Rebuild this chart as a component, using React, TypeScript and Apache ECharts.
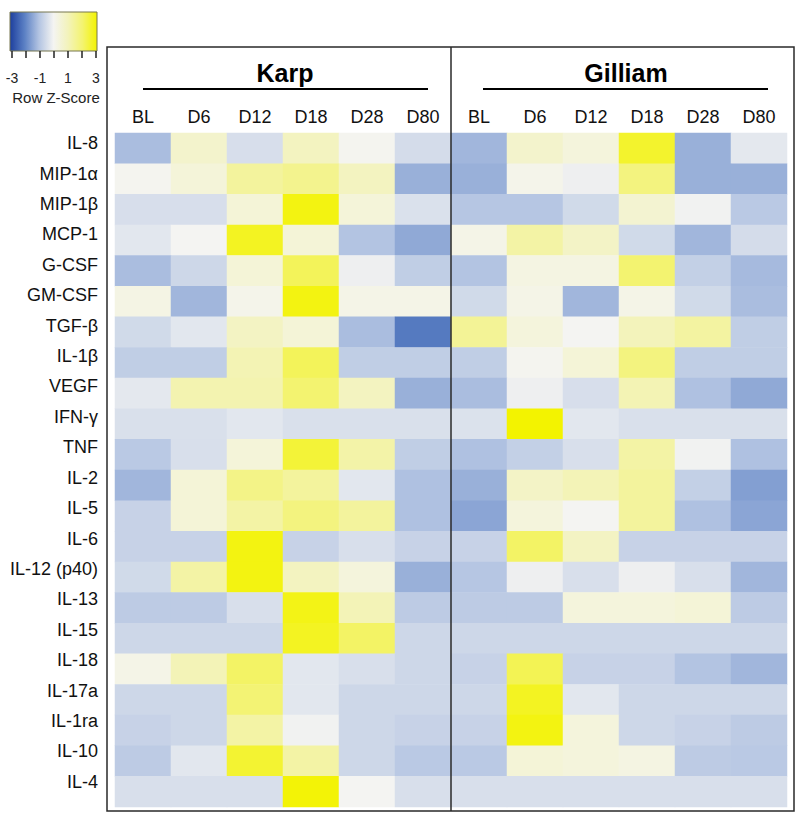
import React, { useEffect, useRef } from "react";
import * as echarts from "echarts";

const groups = ["Karp", "Gilliam"];
const days = ["BL", "D6", "D12", "D18", "D28", "D80"];
const cytokines = [
  "IL-8", "MIP-1α", "MIP-1β", "MCP-1", "G-CSF", "GM-CSF", "TGF-β", "IL-1β",
  "VEGF", "IFN-γ", "TNF", "IL-2", "IL-5", "IL-6", "IL-12 (p40)", "IL-13",
  "IL-15", "IL-18", "IL-17a", "IL-1ra", "IL-10", "IL-4",
];

// Row z-scores, columns BL, D6, D12, D18, D28, D80
const karpZ = [
  [-1.1, 0.7, -0.45, 0.9, 0.05, -0.5],
  [0.05, 0.45, 1.4, 1.6, 0.9, -1.3],
  [-0.45, -0.45, 0.5, 2.85, 0.45, -0.4],
  [-0.28, 0.0, 2.7, 0.5, -1.0, -1.4],
  [-1.1, -0.6, 0.5, 2.2, -0.1, -0.8],
  [0.25, -1.2, 0.15, 2.85, 0.2, 0.2],
  [-0.55, -0.28, 0.85, 0.5, -1.1, -2.1],
  [-0.8, -0.8, 1.1, 2.2, -0.8, -0.8],
  [-0.25, 1.15, 1.15, 2.0, 0.9, -1.3],
  [-0.42, -0.42, -0.28, -0.42, -0.42, -0.42],
  [-0.9, -0.43, 0.45, 2.5, 1.25, -0.8],
  [-1.2, 0.5, 1.7, 1.4, -0.28, -1.05],
  [-0.7, 0.5, 1.3, 1.8, 1.4, -1.05],
  [-0.7, -0.7, 2.85, -0.7, -0.43, -0.7],
  [-0.55, 1.3, 2.85, 0.9, 0.4, -1.3],
  [-0.85, -0.85, -0.43, 2.8, 1.05, -0.85],
  [-0.6, -0.6, -0.6, 2.7, 2.1, -0.6],
  [0.2, 1.05, 2.1, -0.28, -0.43, -0.6],
  [-0.6, -0.6, 1.95, -0.28, -0.6, -0.6],
  [-0.7, -0.6, 1.3, -0.05, -0.6, -0.7],
  [-0.85, -0.28, 2.55, 1.3, -0.6, -0.9],
  [-0.43, -0.43, -0.43, 2.95, 0.0, -0.43],
];

const gilliamZ = [
  [-1.2, 0.7, 0.4, 2.6, -1.3, -0.25],
  [-1.3, 0.15, -0.1, 1.8, -1.3, -1.3],
  [-0.95, -0.95, -0.55, 0.6, -0.05, -0.9],
  [0.2, 1.3, 0.8, -0.55, -1.2, -0.5],
  [-1.0, 0.3, 0.3, 2.0, -0.75, -1.15],
  [-0.55, 0.2, -1.2, 0.2, -0.55, -1.1],
  [1.5, 0.4, 0.0, 1.0, 1.35, -0.8],
  [-0.8, 0.05, 0.5, 1.8, -0.8, -0.8],
  [-1.1, -0.1, -0.45, 1.1, -1.05, -1.4],
  [-0.38, 3.0, -0.28, -0.42, -0.42, -0.42],
  [-1.05, -0.75, -0.43, 1.3, -0.05, -1.05],
  [-1.3, 0.8, 1.05, 1.4, -0.75, -1.55],
  [-1.45, 0.4, 0.0, 1.4, -1.05, -1.45],
  [-0.7, 2.1, 0.85, -0.7, -0.7, -0.7],
  [-0.95, -0.1, -0.43, -0.1, -0.43, -1.2],
  [-0.85, -0.85, 0.4, 0.4, 0.5, -0.85],
  [-0.6, -0.6, -0.6, -0.6, -0.6, -0.6],
  [-0.7, 2.25, -0.7, -0.7, -1.0, -1.2],
  [-0.6, 2.7, -0.28, -0.6, -0.6, -0.6],
  [-0.7, 2.85, 0.4, -0.6, -0.7, -0.85],
  [-0.9, 0.5, 0.4, 0.3, -0.85, -0.9],
  [-0.43, -0.43, -0.43, -0.43, -0.43, -0.43],
];

const legendTicks = [-3, -2, -1, 0, 1, 2, 3];
const legendLabels = [-3, -1, 1, 3];
const scaleColors = ["#1d3f9e", "#5b80c4", "#b3c4e2", "#f4f4f2", "#f3f3bb", "#f3f370", "#f3f300"];

const FONT = "'Liberation Sans', Arial, Helvetica, sans-serif";

export default function App() {
  const ref = useRef<HTMLDivElement>(null);

  useEffect(() => {
    if (!ref.current) return;
    const chart = echarts.init(ref.current, null, { renderer: "svg" });

    const xCats = groups.flatMap((g) => days.map((d) => `${g}|${d}`));
    const groupData = [karpZ, gilliamZ];
    const data: [number, number, number][] = [];
    groupData.forEach((mat, gi) => {
      mat.forEach((row, ri) => {
        row.forEach((v, ci) => {
          data.push([gi * days.length + ci, ri, v]);
        });
      });
    });

    const lgX0 = 12;
    const lgW = 84;
    const tickX = (v: number) => lgX0 + ((v + 3) / 6) * lgW;

    const graphic: any[] = [
      {
        type: "rect",
        shape: { x: 10, y: 12, width: 87, height: 39 },
        style: {
          fill: new echarts.graphic.LinearGradient(
            0, 0, 1, 0,
            scaleColors.map((c, i) => ({ offset: i / (scaleColors.length - 1), color: c }))
          ),
          stroke: "#77774f",
          lineWidth: 1,
        },
      },
      ...legendTicks.map((v) => ({
        type: "line",
        shape: { x1: tickX(v), y1: 51, x2: tickX(v), y2: 58 },
        style: { stroke: "#222", lineWidth: 1.5 },
      })),
      ...legendLabels.map((v) => ({
        type: "text",
        x: tickX(v),
        y: 78,
        style: {
          text: String(v),
          fill: "#222",
          fontSize: 14,
          fontFamily: FONT,
          align: "center",
          verticalAlign: "middle",
          textAlign: "center",
          textVerticalAlign: "middle",
        },
      })),
      {
        type: "text",
        x: 56,
        y: 97,
        style: {
          text: "Row Z-Score",
          fill: "#222",
          fontSize: 15,
          fontFamily: FONT,
          align: "center",
          verticalAlign: "middle",
          textAlign: "center",
          textVerticalAlign: "middle",
        },
      },
      {
        type: "rect",
        shape: { x: 107, y: 47, width: 687, height: 764 },
        style: { fill: "transparent", stroke: "#2a2a2a", lineWidth: 1.5 },
        z: 10,
      },
      {
        type: "line",
        shape: { x1: 451, y1: 47, x2: 451, y2: 811 },
        style: { stroke: "#2a2a2a", lineWidth: 1.5 },
        z: 10,
      },
      ...groups.map((g, i) => ({
        type: "text",
        x: i === 0 ? 285 : 626,
        y: 73,
        style: {
          text: g,
          fill: "#000",
          fontSize: 25,
          fontWeight: "bold",
          fontFamily: FONT,
          align: "center",
          verticalAlign: "middle",
          textAlign: "center",
          textVerticalAlign: "middle",
        },
      })),
      ...groups.map((g, i) => ({
        type: "line",
        shape: i === 0 ? { x1: 143, y1: 89, x2: 428, y2: 89 } : { x1: 483, y1: 89, x2: 768, y2: 89 },
        style: { stroke: "#000", lineWidth: 2.2 },
      })),
    ];

    chart.setOption({
      animation: false,
      backgroundColor: "#ffffff",
      textStyle: { fontFamily: FONT },
      grid: [
        { left: 115, right: 13, top: 133, bottom: 9 },
        { left: 115, right: 13, top: 128, bottom: 19 },
      ],
      xAxis: [
        {
          type: "category",
          gridIndex: 0,
          data: xCats,
          position: "top",
          axisLine: { show: false },
          axisTick: { show: false },
          splitLine: { show: false },
          axisLabel: {
            formatter: (v: string) => v.split("|")[1],
            fontSize: 18,
            color: "#111",
            margin: 16,
            verticalAlign: "middle",
            fontFamily: FONT,
            interval: 0,
          },
        },
        {
          type: "category",
          gridIndex: 1,
          data: xCats,
          show: false,
        },
      ],
      yAxis: [
        {
          type: "category",
          gridIndex: 0,
          data: cytokines,
          inverse: true,
          show: false,
        },
        {
          type: "category",
          gridIndex: 1,
          data: cytokines,
          inverse: true,
          axisLine: { show: false },
          axisTick: { show: false },
          splitLine: { show: false },
          axisLabel: {
            fontSize: 18,
            color: "#111",
            margin: 17,
            fontFamily: FONT,
            interval: 0,
          },
        },
      ],
      visualMap: {
        type: "continuous",
        show: false,
        min: -3,
        max: 3,
        dimension: 2,
        seriesIndex: 0,
        inRange: { color: scaleColors },
      },
      series: [
        {
          type: "heatmap",
          xAxisIndex: 0,
          yAxisIndex: 0,
          data,
          itemStyle: { borderWidth: 0 },
          emphasis: { disabled: true },
          label: { show: false },
        },
      ],
      graphic,
    });

    return () => chart.dispose();
  }, []);

  return (
    <div
      ref={ref}
      style={{ position: "absolute", left: 0, top: 0, width: 800, height: 816, background: "#fff" }}
    />
  );
}
